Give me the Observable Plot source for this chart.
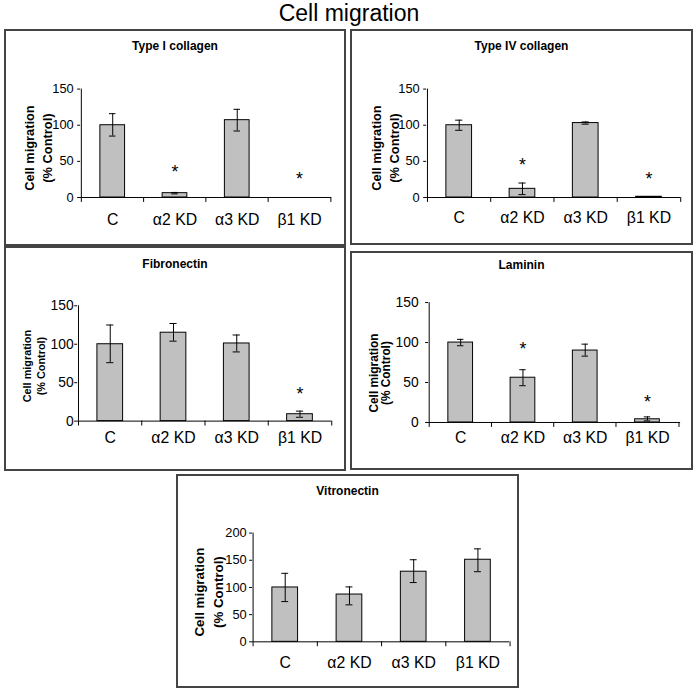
<!DOCTYPE html>
<html>
<head>
<meta charset="utf-8">
<script src="https://cdn.jsdelivr.net/npm/d3@7"></script>
<script src="https://cdn.jsdelivr.net/npm/@observablehq/plot@0.6"></script>
<style>
  body { margin: 0; background: #fff; font-family: Arial, "Liberation Sans", sans-serif; }
  #root { position: relative; width: 698px; height: 693px; overflow: hidden; }
  #title { position: absolute; left: 0; top: 0; width: 698px; text-align: center; font-size: 23px; line-height: 26px; color: #000; }
  .panel { position: absolute; box-sizing: border-box; border: 2px solid #444; }
  .panel svg { position: absolute; left: -2px; top: -2px; overflow: visible; }
  .ptitle { position: absolute; left: -2px; right: -2px; text-align: center; font-weight: bold; font-size: 12px; line-height: 14px; color: #000; }
</style>
</head>
<body>
<div id="root"><div id="title">Cell migration</div></div>
<script>
// ---------- data ----------
const categories = ["C", "α2 KD", "α3 KD", "β1 KD"];
const panelTitles = ["Type I collagen", "Type IV collagen", "Fibronectin", "Laminin", "Vitronectin"];
const yLabelLine1 = "Cell migration";
const yLabelLine2 = "(% Control)";

const yTicks150 = [0, 50, 100, 150];
const yTicks200 = [0, 50, 100, 150, 200];

const type1Mean = [100, 6, 107, 0];
const type1Low  = [85, 5, 92, 0];
const type1High = [116, 7, 122, 0];
const type1Star = [null, 40, null, 30];

const type4Mean = [100, 12, 103, 1];
const type4Low  = [93, 4, 101.5, 1];
const type4High = [107, 20, 104.5, 1];
const type4Star = [null, 50, null, 31];

const fibroMean = [100, 115, 101, 9];
const fibroLow  = [76, 104, 90, 5];
const fibroHigh = [125, 127, 112, 13];
const fibroStar = [null, null, null, 40];

const lamMean = [100, 56, 90, 4];
const lamLow  = [96, 46, 83, 2];
const lamHigh = [104, 66, 98, 7];
const lamStar = [null, 97, null, 30];

const vitroMean = [100, 87, 129, 151];
const vitroLow  = [74, 68, 109, 129];
const vitroHigh = [126, 101, 151, 171];
const vitroStar = [null, null, null, null];

// ---------- layout (page pixel coordinates) ----------
const NARROW = "'Liberation Sans Narrow', 'Arial Narrow', Arial, sans-serif";
const WIDE = "Arial, 'Liberation Sans', sans-serif";
const layout = [
  {l: 4,   t: 29,  r: 346, b: 246, x0: 81,  x1: 335, yTop: 89.3,  yZero: 199,   titleY: 46,  labelY: 227, ylabX: 37.5,  ylabY: 149, ylabSize: 13,   ylabLH: 18, tickFont: NARROW, tickFS: 13, tickGap: 7},
  {l: 350, t: 29,  r: 693, b: 245, x0: 427, x1: 684, yTop: 89.3,  yZero: 199,   titleY: 46,  labelY: 225, ylabX: 384,   ylabY: 149, ylabSize: 13,   ylabLH: 18, tickFont: NARROW, tickFS: 13, tickGap: 7},
  {l: 4,   t: 246, r: 346, b: 471, x0: 78,  x1: 335, yTop: 306,   yZero: 422.7, titleY: 264, labelY: 445, ylabX: 33,    ylabY: 367, ylabSize: 11,   ylabLH: 14, tickFont: WIDE,   tickFS: 14, tickGap: 4},
  {l: 350, t: 251, r: 693, b: 470, x0: 429, x1: 684, yTop: 302.7, yZero: 424,   titleY: 265, labelY: 445, ylabX: 380,   ylabY: 374, ylabSize: 12,   ylabLH: 12.5, tickFont: WIDE, tickFS: 14, tickGap: 10},
  {l: 176, t: 474, r: 519, b: 688, x0: 253, x1: 513, yTop: 533.3, yZero: 643.3, titleY: 491, labelY: 670, ylabX: 207.5, ylabY: 593, ylabSize: 13.5, ylabLH: 19, tickFont: NARROW, tickFS: 13, tickGap: 6}
];

const datasets = [
  {mean: type1Mean, low: type1Low, high: type1High, star: type1Star, ticks: yTicks150},
  {mean: type4Mean, low: type4Low, high: type4High, star: type4Star, ticks: yTicks150},
  {mean: fibroMean, low: fibroLow, high: fibroHigh, star: fibroStar, ticks: yTicks150},
  {mean: lamMean,   low: lamLow,   high: lamHigh,   star: lamStar,   ticks: yTicks150},
  {mean: vitroMean, low: vitroLow, high: vitroHigh, star: vitroStar, ticks: yTicks200}
];

const root = document.getElementById("root");

datasets.forEach((ds, k) => {
  const L = layout[k];
  const W = L.r - L.l, H = L.b - L.t;
  const rows = categories.map((c, i) => ({cat: c, mean: ds.mean[i], low: ds.low[i], high: ds.high[i], star: ds.star[i]}));
  const errRows = rows.filter(d => d.high > d.low);
  const starRows = rows.filter(d => d.star != null);
  const step = (L.x1 - L.x0) / categories.length;
  const bw = step * 0.4;
  const capInset = (bw - 7) / 2;
  const ymax = ds.ticks[ds.ticks.length - 1];
  const tickSize = 3;
  // length of the x-axis boundary ticks (5px) expressed in y units
  const xTickLen = 5 * ymax / (L.yZero - L.yTop);

  const svg = Plot.plot({
    width: W,
    height: H,
    marginLeft: L.x0 - L.l,
    marginRight: L.r - L.x1,
    marginTop: L.yTop - L.t,
    marginBottom: L.b - L.yZero,
    style: {fontFamily: WIDE, background: "transparent", color: "#000", overflow: "visible"},
    x: {domain: categories, paddingInner: 0.6, paddingOuter: 0.3, axis: null},
    y: {domain: [0, ymax], axis: null},
    marks: [
      Plot.barY(rows, {x: "cat", y: "mean", fill: "#c0c0c0", stroke: "#000", strokeWidth: 1}),
      Plot.ruleX(errRows, {x: "cat", y1: "low", y2: "high", stroke: "#000", strokeWidth: 1}),
      Plot.tickY(errRows, {x: "cat", y: "low", stroke: "#000", strokeWidth: 1, insetLeft: capInset, insetRight: capInset}),
      Plot.tickY(errRows, {x: "cat", y: "high", stroke: "#000", strokeWidth: 1, insetLeft: capInset, insetRight: capInset}),
      Plot.text(starRows, {x: "cat", y: "star", text: () => "*", fontSize: 18, dy: 4, fill: "#000"}),
      // axes
      Plot.ruleY([0], {stroke: "#000", strokeWidth: 1}),
      Plot.ruleX([categories[0]], {x: d => d, dx: -step / 2, y1: () => 0, y2: () => ymax, stroke: "#000", strokeWidth: 1}),
      Plot.axisY({ticks: ds.ticks, tickSize: tickSize, tickPadding: L.tickGap - tickSize, fontSize: L.tickFS, fontFamily: L.tickFont, label: null, tickFormat: d => String(d)}),
      Plot.ruleX(categories, {x: d => d, dx: -step / 2, y1: () => 0, y2: () => -xTickLen, stroke: "#000", strokeWidth: 1}),
      Plot.ruleX([categories[categories.length - 1]], {x: d => d, dx: step / 2, y1: () => 0, y2: () => -xTickLen, stroke: "#000", strokeWidth: 1}),
      Plot.text(categories, {x: d => d, frameAnchor: "bottom", dy: L.labelY - L.yZero, fontSize: 16, fill: "#000"}),
      Plot.text([yLabelLine1 + "\n" + yLabelLine2], {
        frameAnchor: "left", textAnchor: "middle", lineAnchor: "middle", rotate: -90,
        dx: L.ylabX - L.x0, dy: L.ylabY - (L.yTop + L.yZero) / 2,
        fontWeight: "bold", fontSize: L.ylabSize, lineHeight: L.ylabLH / L.ylabSize, fill: "#000"
      })
    ]
  });

  const panel = document.createElement("div");
  panel.className = "panel";
  panel.style.left = L.l + "px";
  panel.style.top = L.t + "px";
  panel.style.width = W + "px";
  panel.style.height = H + "px";
  panel.appendChild(svg);
  const t = document.createElement("div");
  t.className = "ptitle";
  t.textContent = panelTitles[k];
  t.style.top = (L.titleY - L.t - 2 - 7) + "px";
  panel.appendChild(t);
  root.appendChild(panel);
});
</script>
</body>
</html>
